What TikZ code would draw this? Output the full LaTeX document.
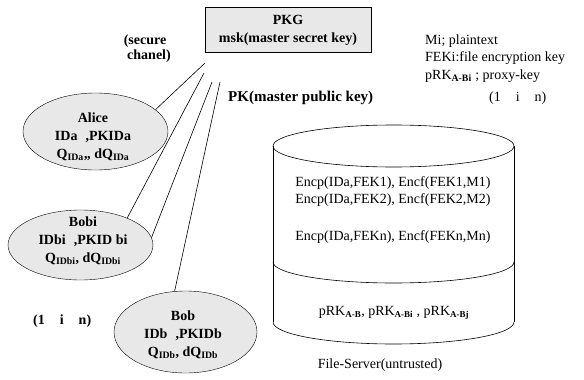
\documentclass[tikz,border=0pt]{standalone}
\usepackage{fontspec}
\setmainfont{Liberation Serif}
\usetikzlibrary{shapes.geometric}
\definecolor{fillg}{gray}{0.91}
\begin{document}
\begin{tikzpicture}[x=1pt,y=-1pt,
  every node/.style={inner sep=0pt},
  reg/.style={font=\fontsize{14}{17}\selectfont},
  bld/.style={font=\fontsize{14}{18}\selectfont\bfseries, align=center},
  person/.style={ellipse, draw, fill=fillg, minimum width=#1},
  link/.style={draw, line width=0.6pt},
  sub/.style={}]
\useasboundingbox (0,0) rectangle (584,380);

% PKG box
\node[draw, fill=fillg, minimum width=166pt, minimum height=45pt, bld] (pkg) at (288,30) {PKG\\msk(master secret key)};
\node[bld, font=\fontsize{14}{15}\selectfont\bfseries] (sec) at (145,49) {(secure\\\hspace*{8pt}chanel)};
\node[bld, font=\fontsize{15}{18}\selectfont\bfseries, anchor=west] (pk) at (228,98) {PK(master public key)};

% users
\node[person=145pt, minimum height=77pt] (alice) at (95.5,131.5) {};
\node[bld] (alicet) at (93,137) {Alice\\IDa\hspace{8pt},PKIDa\\Q\textsubscript{IDa},, dQ\textsubscript{IDa}};
\node[person=145pt, minimum height=70pt] (bobi) at (80.5,245) {};
\node[bld] (bobit) at (83,241) {Bobi\\IDbi\hspace{8pt},PKID bi\\Q\textsubscript{IDbi}, dQ\textsubscript{IDbi}};
\node[person=143pt, minimum height=82pt] (bob) at (185.5,332) {};
\node[bld] (bobt) at (183,335) {Bob\\IDb\hspace{8pt},PKIDb\\Q\textsubscript{IDb}, dQ\textsubscript{IDb}};

% connectors
\coordinate (s1) at (205,63);
\coordinate (s2) at (204,73);
\coordinate (s3) at (212,82);
\coordinate (s4) at (220,82);
\draw[link] (s1) -- (alice.20);
\draw[link] (s2) -- (bobi.30);
\draw[link] (s3) -- (bobi.6);
\draw[link] (s4) -- (bob.105);

% legend
\node[reg, anchor=west] (l1) at (425,41) {Mi; plaintext};
\node[reg, anchor=west] (l2) at (425,58) {FEKi:file encryption key};
\node[reg, anchor=west] (l3) at (425,76) {pRK\textsubscript{\bfseries A-Bi} ; proxy-key};
\node[reg, anchor=west] (l4) at (489,98) {(1\hspace{15pt}i\hspace{15pt}n)};
\node[bld, anchor=west] (lr) at (33,321) {(1\hspace{15pt}i\hspace{15pt}n)};

% file server cylinder
\draw[line width=0.6pt] (393.5,146) ellipse [x radius=120.5pt, y radius=21pt];
\draw[line width=0.6pt] (273,146) -- (273,322);
\draw[line width=0.6pt] (514,146) -- (514,322);
\draw[line width=0.6pt] (273,262) arc[start angle=180, end angle=360, x radius=120.5pt, y radius=21pt];
\draw[line width=0.6pt] (273,322) arc[start angle=180, end angle=360, x radius=120.5pt, y radius=22pt];
\node[reg] (f1) at (393,183) {Encp(IDa,FEK1), Encf(FEK1,M1)};
\node[reg] (f2) at (393,200) {Encp(IDa,FEK2), Encf(FEK2,M2)};
\node[reg] (fn) at (393,237) {Encp(IDa,FEKn), Encf(FEKn,Mn)};
\node[reg] (prk) at (394,313) {pRK\textsubscript{\bfseries\fontsize{9}{9}\selectfont A-B}, pRK\textsubscript{\bfseries\fontsize{9}{9}\selectfont A-Bi} , pRK\textsubscript{\bfseries\fontsize{9}{9}\selectfont A-Bj}};
\node[reg] (fs) at (380,365) {File-Server(untrusted)};
\end{tikzpicture}
\end{document}
